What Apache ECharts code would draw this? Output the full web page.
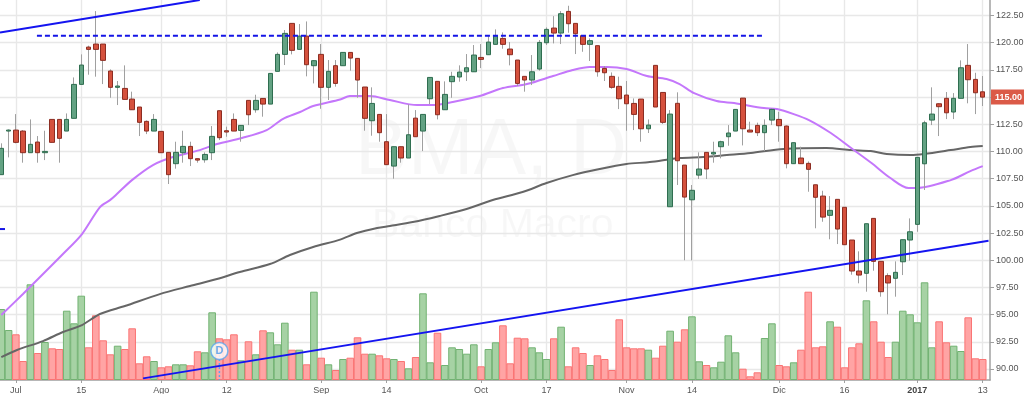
<!DOCTYPE html>
<html>
<head>
<meta charset="utf-8">
<style>html,body{margin:0;padding:0;background:#fff}#c{width:1024px;height:394px}</style>
<script src="https://cdn.jsdelivr.net/npm/echarts@6/dist/echarts.min.js"></script>
</head>
<body>
<div id="c"></div>
<script>
const opens=[107.87,111.88,111.97,111.88,109.89,110.87,109.89,112.95,112.95,111.88,113.05,116.17,119.60,119.88,119.88,117.40,115.90,115.80,114.82,114.09,112.77,111.88,111.85,109.92,108.88,109.89,110.47,109.34,109.24,109.89,113.75,111.91,112.95,111.94,114.70,113.84,114.88,114.36,117.37,118.93,121.78,119.39,120.61,117.89,118.93,115.90,117.89,117.89,119.11,118.56,115.93,112.83,113.41,110.90,108.66,110.44,109.40,113.07,111.88,114.85,116.45,113.84,116.42,116.85,117.33,117.33,118.65,118.90,119.85,120.40,119.42,118.41,116.91,116.57,117.58,120.00,121.35,120.89,122.88,121.78,120.65,119.85,119.73,117.64,116.91,115.99,115.19,114.42,114.82,112.09,117.92,115.43,104.92,114.43,108.75,105.56,107.83,109.92,109.77,110.44,111.36,111.88,114.91,111.97,112.40,111.73,112.89,112.95,112.34,108.88,109.40,108.91,106.94,105.90,104.13,105.60,104.87,101.86,99.01,98.80,103.85,99.90,98.58,98.34,99.86,101.86,103.30,108.87,112.89,114.39,114.89,113.63,114.89,117.92,116.63,115.49];
const closes=[110.29,111.97,110.84,109.89,110.66,109.89,110.01,110.84,111.21,112.95,116.17,117.95,119.39,119.39,118.38,115.90,116.02,114.79,113.84,112.68,111.88,112.95,109.89,107.87,109.92,110.47,109.34,109.21,109.73,111.39,111.27,111.79,111.88,112.40,113.38,114.70,114.36,117.18,118.93,120.86,119.30,120.61,117.98,118.35,115.90,117.37,116.26,119.11,118.59,116.57,113.05,114.42,111.73,108.79,110.44,109.40,111.54,111.36,113.41,116.81,113.38,115.25,116.91,117.30,117.70,118.87,118.47,120.06,120.65,119.85,118.90,116.26,116.57,117.33,120.03,121.23,120.89,122.67,121.75,120.83,119.85,120.19,117.33,117.24,115.90,114.85,114.39,113.41,112.09,112.43,114.09,112.68,113.44,109.15,105.81,106.43,108.39,108.39,109.92,110.90,111.70,113.87,112.09,111.79,111.73,112.40,113.87,112.37,108.88,110.81,108.88,108.36,105.79,103.97,104.59,102.87,101.43,99.01,98.64,103.36,99.90,97.11,97.91,98.89,101.89,102.62,109.46,112.64,113.44,114.12,113.56,114.89,117.70,116.60,115.40,115.00];
const highs=[110.75,112.03,113.44,111.97,112.95,111.42,111.91,112.95,112.95,113.50,116.81,118.93,119.73,122.91,119.88,117.55,116.48,117.92,115.50,114.09,112.86,113.44,111.85,109.92,110.90,111.91,110.90,109.34,109.92,112.34,113.75,112.28,113.50,112.40,114.70,115.22,114.88,117.18,119.11,121.17,121.78,121.72,121.96,118.41,119.88,118.41,118.41,119.11,119.11,118.56,115.93,115.90,113.41,113.44,110.44,110.44,114.33,113.81,113.41,116.81,116.45,116.45,117.33,117.92,118.96,119.79,119.88,120.61,121.23,120.95,120.06,118.41,116.91,118.87,120.25,121.41,122.45,122.91,123.40,121.78,120.65,120.40,119.73,117.86,117.27,116.88,116.48,114.88,114.82,112.95,117.92,115.43,113.81,115.44,108.75,106.92,109.92,109.92,110.90,110.99,112.43,113.87,114.91,112.74,112.65,112.95,113.96,113.66,112.40,110.81,110.44,109.09,106.94,106.39,105.90,105.60,104.87,101.86,100.82,103.36,103.85,99.90,98.80,99.90,101.89,103.85,109.46,112.83,115.90,114.43,115.47,115.37,118.38,119.88,117.24,116.94];
const lows=[107.87,109.46,110.75,108.97,109.89,108.97,109.21,110.84,108.97,111.88,113.05,116.17,117.06,116.88,116.20,114.94,114.27,114.79,113.84,111.42,111.60,111.88,109.89,107.01,108.42,108.97,108.66,108.97,108.97,109.21,111.05,111.36,111.88,110.90,112.43,113.57,113.20,114.36,117.37,117.95,118.93,119.39,116.91,116.26,113.93,114.73,115.96,117.89,117.43,114.94,111.91,111.45,110.90,108.79,107.50,108.97,109.40,111.36,110.04,114.36,112.95,113.84,114.94,116.42,116.48,117.33,117.67,118.90,119.85,119.45,117.92,116.02,115.50,116.11,117.43,119.79,119.94,119.88,120.92,118.96,119.17,118.32,116.88,116.48,115.77,113.90,111.91,111.97,110.90,111.70,114.09,112.53,104.92,106.92,100.00,100.00,107.47,107.47,108.97,109.37,110.53,111.88,110.56,111.79,111.42,110.04,112.43,110.90,108.45,108.88,108.88,106.30,102.94,103.54,101.93,101.49,101.43,98.67,97.88,97.11,99.04,96.65,95.03,96.65,98.64,99.96,102.62,106.46,112.43,111.42,112.98,112.98,114.89,114.43,113.44,114.18];
const volumes=[710,500,457,190,957,270,380,317,310,693,567,843,327,647,397,257,343,310,517,167,237,190,127,137,157,157,147,287,277,677,417,407,457,197,387,257,497,477,357,573,303,303,157,883,223,157,100,210,223,427,263,263,247,217,210,190,117,230,867,177,473,150,327,310,263,357,137,310,377,547,167,423,417,327,277,210,417,533,137,327,270,150,247,210,100,607,327,317,317,303,223,343,493,383,507,637,187,150,127,183,447,277,113,37,77,420,567,150,137,177,303,883,327,337,587,533,127,327,367,797,587,383,230,383,693,657,577,977,327,587,377,343,290,627,217,210];
const maFastPoints=[[0,94.96],[2.98,96.9],[4.36,97.81],[8.48,100.57],[11.1,102.41],[13.57,104.89],[14.95,105.53],[15.9,106.09],[17.97,107.37],[20.86,108.75],[23.6,109.49],[27.3,110.13],[29.66,110.69],[33.1,111.24],[36.5,111.97],[38.7,112.98],[41.1,113.63],[42.9,114.18],[46.6,114.78],[47.95,115.1],[50.7,115.1],[53.45,114.73],[57.2,114.27],[59.4,114.27],[62.1,114.55],[65.8,115.1],[69,115.83],[72.3,116.2],[75.9,116.94],[78.6,117.49],[80.95,117.77],[83.3,117.77],[86,117.58],[88.8,116.94],[91.5,116.66],[93.3,116.2],[95.3,115.37],[98.4,114.64],[100.8,114.45],[104.9,113.99],[106.7,113.9],[109,113.44],[111.1,112.89],[114.1,111.7],[116.9,110.32],[119.7,108.94],[122.3,107.56],[124.8,106.64],[125.9,106.64],[130.6,107.37],[133.3,108.2],[135,108.66]];
const maSlowPoints=[[0,91.1],[2.16,91.75],[5.73,92.57],[8.48,93.4],[11.1,94.04],[13.57,95.06],[17,95.79],[21.8,96.89],[25.95,97.63],[29.66,98.27],[32.8,98.92],[36.95,99.65],[39.7,100.48],[42.9,101.22],[46.6,101.9],[48.9,102.5],[51.7,102.96],[53.45,103.15],[56.6,103.51],[60.3,104.07],[64,104.71],[67.6,105.54],[71.7,106.27],[75,107.1],[78.6,107.83],[82.3,108.39],[86,108.85],[89.2,109.03],[93.3,109.4],[96.6,109.49],[99.8,109.67],[103.1,109.86],[107.6,110.23],[113.5,110.32],[116.9,110.13],[119.6,110.04],[121.8,109.77],[125.1,109.67],[126.9,109.77],[130.6,110.13],[133.3,110.41],[135,110.5]];
const upperTrend=[[-0.18,120.95],[27.3,123.93]];
const lowerTrend=[[19.5,89.14],[135.8,101.79]];
const resistance=[[4.9,120.65],[105,120.65]];
const stubLine=[[-0.18,102.87],[0.8,102.87]];
const tickIndex=[2,11,22,31,44,53,66,75,86,95,107,116,126,135];
const tickText=['Jul','15','Ago','12','Sep','14','Oct','17','Nov','14','Dic','16','2017','13'];
const priceTicks=[90,92.5,95,97.5,100,102.5,105,107.5,110,112.5,115,117.5,120,122.5];
const lastPrice=115;
const dividendIndex=30;
const dividendPrice=91.65;

const RED='#d5513d',RED_B='#8c2d22',GREEN='#63a283',GREEN_B='#2f6e50';
const WICK='#a0a0a0',AXIS='#a0a0a0',GRID='#e8e8e8';
const FONT='"Liberation Sans",Arial,sans-serif';
const idx=opens.map((_,i)=>i);
const up=i=>closes[i]>=opens[i];

const wickData=idx.map(i=>[i,opens[i],closes[i],lows[i],highs[i]]);
const bodyData=idx.map(i=>[i,opens[i],closes[i],Math.min(opens[i],closes[i]),Math.max(opens[i],closes[i])]);
const volData=idx.map(i=>({value:[i,volumes[i]],itemStyle:up(i)?{color:'#a6d2a4',borderColor:'#72b272'}:{color:'#ffa4a4',borderColor:'#fa7474'}}));

const line=(data,color,width,z,extra)=>Object.assign({type:'line',data,symbol:'none',silent:true,animation:false,z,
  lineStyle:{color,width}},extra||{});

const chart=echarts.init(document.getElementById('c'),null,{renderer:'canvas'});
chart.setOption({
  animation:false,
  backgroundColor:'#fff',
  graphic:[
    {type:'text',z:0,left:355,top:113,silent:true,style:{text:'BMA, D',font:'79px '+FONT,fill:'rgba(0,0,0,0.03)'}},
    {type:'text',z:0,left:372,top:205,silent:true,style:{text:'Banco Macro',font:'41px '+FONT,fill:'rgba(0,0,0,0.03)'}}
  ],
  grid:{left:0,top:0,width:990,height:380,containLabel:false,outerBoundsMode:'none'},
  xAxis:{type:'value',min:-0.18,max:136,
    axisLine:{show:true,onZero:false,lineStyle:{color:AXIS,width:1.5}},
    axisTick:{show:true,length:3,customValues:tickIndex,lineStyle:{color:AXIS}},
    splitLine:{show:true,lineStyle:{color:GRID,width:1.4}},
    axisLabel:{customValues:tickIndex,color:'#555',fontFamily:FONT,fontSize:9,margin:6,hideOverlap:false,
      formatter:v=>{const t=tickText[tickIndex.indexOf(v)];return t==='2017'?'{b|2017}':t;},
      rich:{b:{fontWeight:'bold',color:'#444',fontFamily:FONT,fontSize:9}}}
  },
  yAxis:[
    {type:'value',position:'right',min:88.99,max:123.93,
     axisLine:{show:true,onZero:false,lineStyle:{color:AXIS,width:1.5}},
     axisTick:{show:true,length:4,customValues:priceTicks,lineStyle:{color:AXIS}},
     splitLine:{show:true,lineStyle:{color:GRID,width:1.4}},
     axisLabel:{customValues:priceTicks,color:'#555',fontFamily:FONT,fontSize:9,margin:1,
       formatter:v=>v===lastPrice?'{cur|'+v.toFixed(2)+'}':'{n|'+v.toFixed(2)+'}',
       rich:{n:{color:'#555',fontFamily:FONT,fontSize:9,padding:[0,0,0,5]},
             cur:{color:'#fff',fontWeight:'bold',fontFamily:FONT,fontSize:9,backgroundColor:'#db5a48',padding:[3,2,3,4]}}}},
    {type:'value',min:0,max:3800,show:false,splitLine:{show:false}}
  ],
  series:[
    {type:'bar',yAxisIndex:1,data:volData,barWidth:7.6,z:2,silent:true,animation:false,itemStyle:{borderWidth:1}},
    line(maSlowPoints,'#666666',2,3,{smooth:0.3}),
    line(maFastPoints,'#c477fb',2,3,{smooth:0.3}),
    {type:'candlestick',data:wickData,barWidth:1,z:4,silent:true,animation:false,
     itemStyle:{color:WICK,color0:WICK,borderColor:WICK,borderColor0:WICK,borderWidth:1}},
    {type:'candlestick',data:bodyData,barWidth:5,z:5,silent:true,animation:false,
     itemStyle:{color:GREEN,color0:RED,borderColor:GREEN_B,borderColor0:RED_B,borderWidth:1}},
    line(upperTrend,'#1414f0',2,6),
    line(lowerTrend,'#1414f0',2,6),
    line(resistance,'#1414e6',2,6,{lineStyle:{color:'#1414e6',width:2,type:[5,3]}}),
    line(stubLine,'#1414e6',2,6,{lineStyle:{color:'#1414e6',width:2,type:[5,3]}}),
    {type:'line',data:[[dividendIndex,dividendPrice],[dividendIndex,88.99]],symbol:'none',z:6,silent:true,animation:false,
     lineStyle:{color:'#5aa6ee',width:1.5,type:[2,2]}},
    {type:'scatter',data:[[dividendIndex,dividendPrice]],symbol:'circle',symbolSize:17,z:7,silent:true,animation:false,
     itemStyle:{color:'#fff',borderColor:'#5aa6ee',borderWidth:1.5},
     label:{show:true,position:'inside',formatter:'D',color:'#4a9ae8',fontFamily:FONT,fontSize:11,fontWeight:'bold'}}
  ]
});
</script>
</body>
</html>
